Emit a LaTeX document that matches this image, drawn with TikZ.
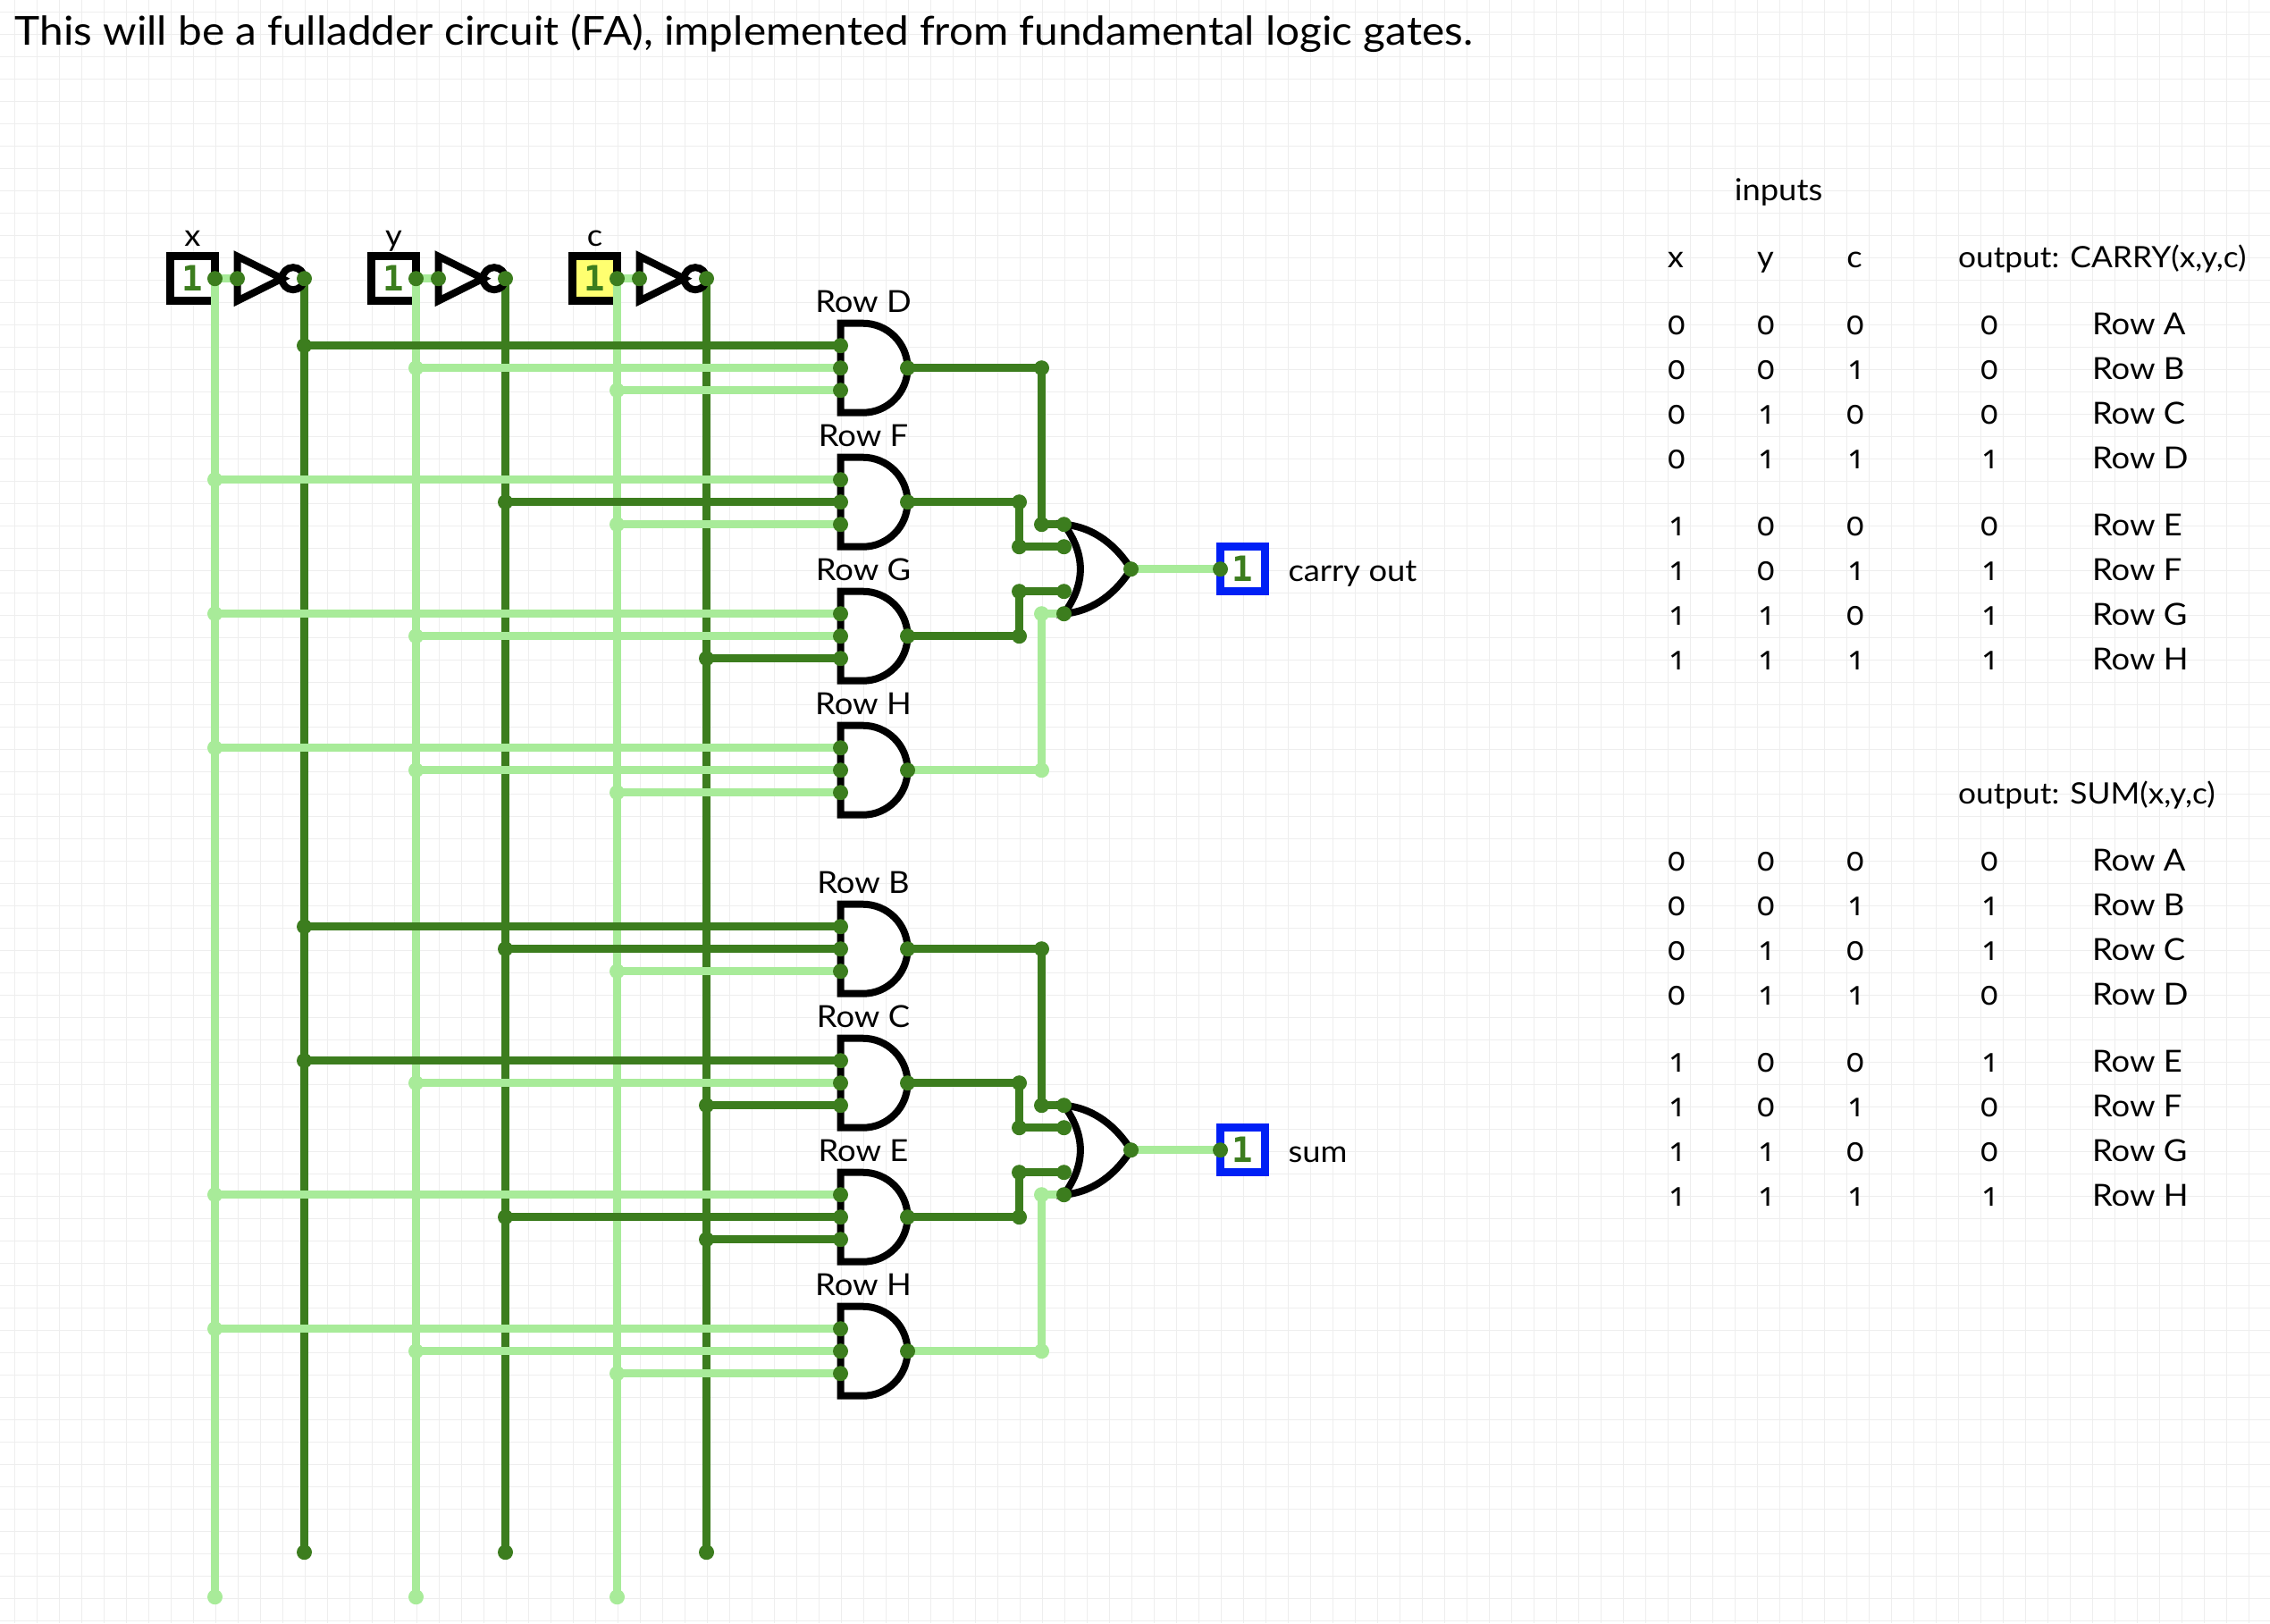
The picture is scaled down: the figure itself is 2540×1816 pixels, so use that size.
\documentclass[tikz,border=0pt]{standalone}
\usepackage{fontspec}
\setmainfont{Lato}[FakeStretch=1.07]
\newfontfamily\numfont{Open Sans}[Numbers=OldStyle]
\newfontfamily\bitfont{DejaVu Sans Mono}
\definecolor{wdark}{HTML}{3C7D1E}
\definecolor{wlight}{HTML}{A8EB99}
\definecolor{gridc}{HTML}{EEEEEE}
\definecolor{bluebox}{HTML}{0020F5}
\definecolor{yelbox}{HTML}{FFFF70}
\tikzset{
  x=1pt,y=-1pt,
  gridline/.style={draw=gridc,line width=1.4pt},
  netw/.style={draw=#1,line width=8.5pt},
  jdot/.style={circle,fill=#1,draw=none,inner sep=0pt,outer sep=0pt,minimum size=17pt},
  gatebody/.style={draw=black,fill=white,line width=8pt},
  bitbox/.style={draw=#1,line width=8.5pt,minimum size=50pt,inner sep=0pt,outer sep=0pt,text=wdark,font=\bitfont\bfseries\fontsize{39}{39}\selectfont},
  lbl/.style={font=\fontsize{34}{40}\selectfont,inner sep=0pt,outer sep=0pt,anchor=base},
  lblw/.style={font=\fontsize{34}{40}\selectfont,inner sep=0pt,outer sep=0pt,anchor=base west},
  hdr/.style={font=\fontsize{33}{40}\selectfont,inner sep=0pt,outer sep=0pt,anchor=base west},
  tnum/.style={font=\numfont\fontsize{38}{40}\selectfont,inner sep=0pt,outer sep=0pt,anchor=base},
}
% pins of an AND gate: name, centre y
\newcommand{\andpins}[2]{%
  \coordinate (#1-i1) at (940.5,#2-25);
  \coordinate (#1-i2) at (940.5,#2);
  \coordinate (#1-i3) at (940.5,#2+25);
  \coordinate (#1-o) at (1015.5,#2);
}
\newcommand{\andbody}[3]{%
  \draw[gatebody] (940.5,#2-50) -- (965.5,#2-50) arc[start angle=90,end angle=-90,radius=50pt] -- (940.5,#2+50) -- cycle;
  \node[lbl] (#1-lbl) at (966,#2-62.4) {#3};
  \foreach \p in {i1,i2,i3,o} {\node[jdot=wdark] at (#1-\p) {};}
}
\newcommand{\orpins}[2]{%
  \coordinate (#1-i1) at (1190.5,#2-50);
  \coordinate (#1-i2) at (1190.5,#2-25);
  \coordinate (#1-i3) at (1190.5,#2+25);
  \coordinate (#1-i4) at (1190.5,#2+50);
  \coordinate (#1-o) at (1265.5,#2);
  \coordinate (#1-busa) at (1140.5,#2);
  \coordinate (#1-busb) at (1165.5,#2);
}
\newcommand{\orbody}[2]{%
  \draw[gatebody] (1190.5,#2-50) .. controls (1225,#2-47) and (1250,#2-25) .. (1265.5,#2)
     .. controls (1250,#2+25) and (1225,#2+47) .. (1190.5,#2+50)
     .. controls (1215,#2+16) and (1215,#2-16) .. cycle;
  \foreach \p in {i1,i2,i3,i4,o} {\node[jdot=wdark] at (#1-\p) {};}
}
% tap: colour, bus, pin
\newcommand{\tap}[3]{%
  \draw[netw=#1] (#2 |- #3) -- (#3);
  \node[jdot=#1] at (#2 |- #3) {};
}
% gate output to OR input: colour, from, bus, pin
\newcommand{\route}[4]{%
  \draw[netw=#1] (#2) -- (#3 |- #2) -- (#3 |- #4) -- (#4);
  \node[jdot=#1] at (#3 |- #2) {};
  \node[jdot=#1] at (#3 |- #4) {};
}
% inverter: name, left x
\newcommand{\inverter}[2]{%
  \coordinate (#1-i) at (#2,311.7);
  \coordinate (#1-o) at (#2+75,311.7);
}
\newcommand{\invbody}[2]{%
  \draw[gatebody] (#2,286.7) -- (#2+50,311.7) -- (#2,336.7) -- cycle;
  \draw[draw=black,line width=8pt] (#2+62.5,311.7) circle[radius=12.5pt];
  \node[jdot=wdark] at (#1-i) {};
  \node[jdot=wdark] at (#1-o) {};
}
\begin{document}
\begin{tikzpicture}
\useasboundingbox (0,0) rectangle (2540,1816);
\fill[white] (0,0) rectangle (2540,1816);
\foreach \g in {0,...,100} {\draw[gridline] (16.7+25*\g,0) -- (16.7+25*\g,1816);}
\foreach \g in {0,...,72} {\draw[gridline] (0,13.3+25*\g) -- (2540,13.3+25*\g);}

% texts
\node[font=\fontsize{44.6}{50}\selectfont,inner sep=0pt,anchor=base west] (title) at (16.7,50) {This will be a fulladder circuit (FA), implemented from fundamental logic gates.};
\node[lbl] (inputs) at (1990,224.3) {inputs};
\node[lbl] (hx) at (1875,299) {x};
\node[lbl] (hy) at (1975.5,299) {y};
\node[lbl] (hc) at (2075,299) {c};
\node[hdr] (hcarry) at (2191,299) {output: CARRY(x,y,c)};
\node[hdr] (hsum) at (2191,899) {output: SUM(x,y,c)};
\foreach \b/\vx/\vy/\vc/\vo/\vs/\r in {
  374.3/0/0/0/0/0/A,424.3/0/0/1/0/1/B,474.3/0/1/0/0/1/C,524.3/0/1/1/1/0/D,
  599.3/1/0/0/0/1/E,649.3/1/0/1/1/0/F,699.3/1/1/0/1/0/G,749.3/1/1/1/1/1/H} {
  \node[tnum] (cx\r) at (1876.4,\b) {\vx};
  \node[tnum] (cy\r) at (1976.3,\b) {\vy};
  \node[tnum] (cc\r) at (2076.2,\b) {\vc};
  \node[tnum] (co\r) at (2226.3,\b) {\vo};
  \node[lblw] (cr\r) at (2341,\b) {Row \r};
  \node[tnum] (sx\r) at (1876.4,\b+600) {\vx};
  \node[tnum] (sy\r) at (1976.3,\b+600) {\vy};
  \node[tnum] (sc\r) at (2076.2,\b+600) {\vc};
  \node[tnum] (so\r) at (2226.3,\b+600) {\vs};
  \node[lblw] (sr\r) at (2341,\b+600) {Row \r};
}
\node[lblw] (carrylbl) at (1441.5,650) {carry out};
\node[lblw] (sumlbl) at (1441.5,1300) {sum};
\node[lbl] (xlbl) at (215.5,275) {x};
\node[lbl] (ylbl) at (440.5,275) {y};
\node[lbl] (clbl) at (665.5,275) {c};

% pins and buses
\andpins{D}{411.7}\andpins{F}{561.7}\andpins{G}{711.7}\andpins{Ha}{861.7}
\andpins{B}{1061.7}\andpins{C}{1211.7}\andpins{E}{1361.7}\andpins{Hb}{1511.7}
\orpins{P}{636.7}\orpins{Q}{1286.7}
\inverter{nx}{265.5}\inverter{ny}{490.5}\inverter{nc}{715.5}
\node[bitbox=black,fill=white] (xin) at (215.5,311.7) {1};
\node[bitbox=black,fill=white] (yin) at (440.5,311.7) {1};
\node[bitbox=black,fill=yelbox] (cin) at (665.5,311.7) {1};
\node[bitbox=bluebox,fill=white] (cout) at (1390.5,636.7) {1};
\node[bitbox=bluebox,fill=white] (sout) at (1390.5,1286.7) {1};
\coordinate (xbus) at (xin.east);
\coordinate (ybus) at (yin.east);
\coordinate (cbus) at (cin.east);
\coordinate (xend) at (240.5,1786.7);
\coordinate (yend) at (465.5,1786.7);
\coordinate (cend) at (690.5,1786.7);
\coordinate (nxend) at (340.5,1736.7);
\coordinate (nyend) at (565.5,1736.7);
\coordinate (ncend) at (790.5,1736.7);

% verticals
\draw[netw=wlight] (xbus) -- (xend);
\draw[netw=wlight] (ybus) -- (yend);
\draw[netw=wlight] (cbus) -- (cend);
\draw[netw=wdark] (nx-o) -- (nxend);
\draw[netw=wdark] (ny-o) -- (nyend);
\draw[netw=wdark] (nc-o) -- (ncend);
\foreach \e in {xend,yend,cend} {\node[jdot=wlight] at (\e) {};}
\foreach \e in {nxend,nyend,ncend} {\node[jdot=wdark] at (\e) {};}
\draw[netw=wlight] (xbus) -- (nx-i);
\draw[netw=wlight] (ybus) -- (ny-i);
\draw[netw=wlight] (cbus) -- (nc-i);

% horizontal taps
\tap{wdark}{nxend}{D-i1}\tap{wlight}{yend}{D-i2}\tap{wlight}{cend}{D-i3}
\tap{wlight}{xend}{F-i1}\tap{wdark}{nyend}{F-i2}\tap{wlight}{cend}{F-i3}
\tap{wlight}{xend}{G-i1}\tap{wlight}{yend}{G-i2}\tap{wdark}{ncend}{G-i3}
\tap{wlight}{xend}{Ha-i1}\tap{wlight}{yend}{Ha-i2}\tap{wlight}{cend}{Ha-i3}
\tap{wdark}{nxend}{B-i1}\tap{wdark}{nyend}{B-i2}\tap{wlight}{cend}{B-i3}
\tap{wdark}{nxend}{C-i1}\tap{wlight}{yend}{C-i2}\tap{wdark}{ncend}{C-i3}
\tap{wlight}{xend}{E-i1}\tap{wdark}{nyend}{E-i2}\tap{wdark}{ncend}{E-i3}
\tap{wlight}{xend}{Hb-i1}\tap{wlight}{yend}{Hb-i2}\tap{wlight}{cend}{Hb-i3}

% gate outputs to OR gates
\route{wdark}{D-o}{P-busb}{P-i1}
\route{wdark}{F-o}{P-busa}{P-i2}
\route{wdark}{G-o}{P-busa}{P-i3}
\route{wlight}{Ha-o}{P-busb}{P-i4}
\route{wdark}{B-o}{Q-busb}{Q-i1}
\route{wdark}{C-o}{Q-busa}{Q-i2}
\route{wdark}{E-o}{Q-busa}{Q-i3}
\route{wlight}{Hb-o}{Q-busb}{Q-i4}
\draw[netw=wlight] (P-o) -- (cout.west);
\draw[netw=wlight] (Q-o) -- (sout.west);

% gate bodies
\andbody{D}{411.7}{Row D}\andbody{F}{561.7}{Row F}\andbody{G}{711.7}{Row G}\andbody{Ha}{861.7}{Row H}
\andbody{B}{1061.7}{Row B}\andbody{C}{1211.7}{Row C}\andbody{E}{1361.7}{Row E}\andbody{Hb}{1511.7}{Row H}
\orbody{P}{636.7}\orbody{Q}{1286.7}
\invbody{nx}{265.5}\invbody{ny}{490.5}\invbody{nc}{715.5}
\foreach \n in {xin,yin,cin} {\node[jdot=wdark] at (\n.east) {};}
\foreach \n in {cout,sout} {\node[jdot=wdark] at (\n.west) {};}
\end{tikzpicture}
\end{document}
